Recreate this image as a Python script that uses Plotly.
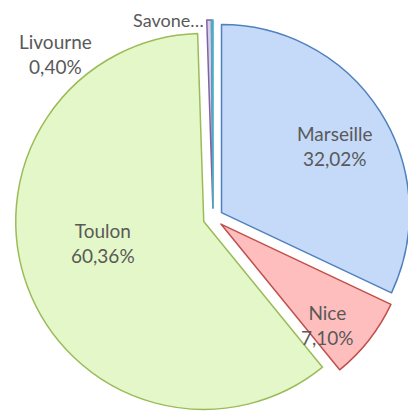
import plotly.graph_objects as go

# slices in drawing order, clockwise from 12 o'clock
CITIES = ["Marseille", "Nice", "Toulon", "Livourne", "Savone"]
SHARES = [32.02, 7.10, 60.36, 0.40, 0.12]
FILLS = ["#C5D9F8", "#FFBEBE", "#E4F7C8", "#D9CDE8", "#C9E9F2"]
EDGES = ["#4F81BD", "#C0504D", "#9BBB59", "#8064A2", "#4BACC6"]

TEXT_COLOR = "#595959"
FONT = "Lato"


def pct(v):
    return f"{v:.2f}".replace(".", ",") + "%"


fig = go.Figure(
    go.Pie(
        labels=CITIES,
        values=SHARES,
        sort=False,
        direction="clockwise",
        rotation=0,
        pull=0.053,
        textinfo="none",
        hoverinfo="label+percent",
        marker={"colors": FILLS, "line": {"color": EDGES, "width": 1.5}},
        domain={"x": [0.017, 0.969], "y": [0.010, 0.971]},
        showlegend=False,
    )
)

# label spots (paper coords), Excel "best fit" style
spots = {
    "Marseille": (0.784, 0.665),
    "Nice": (0.769, 0.231),
    "Toulon": (0.228, 0.430),
    "Livourne": (0.113, 0.888),
}
for city, share in zip(CITIES, SHARES):
    if city in spots:
        x, y = spots[city]
        fig.add_annotation(
            x=x, y=y, xref="paper", yref="paper",
            xanchor="center", yanchor="middle",
            text=f"{city}<br>{pct(share)}",
            showarrow=False,
            font={"family": FONT, "size": 19, "color": TEXT_COLOR},
        )

# truncated label for the tiniest slice, hugging the top edge
fig.add_annotation(
    x=0.385, y=1.0, xref="paper", yref="paper",
    xanchor="center", yanchor="top",
    text=CITIES[4][:6] + "…",
    showarrow=False,
    borderpad=0,
    font={"family": FONT, "size": 18, "color": TEXT_COLOR},
)

fig.update_layout(
    width=416,
    height=412,
    margin={"l": 0, "r": 0, "t": 0, "b": 0},
    paper_bgcolor="white",
    plot_bgcolor="white",
)

fig.write_html("out.html")
